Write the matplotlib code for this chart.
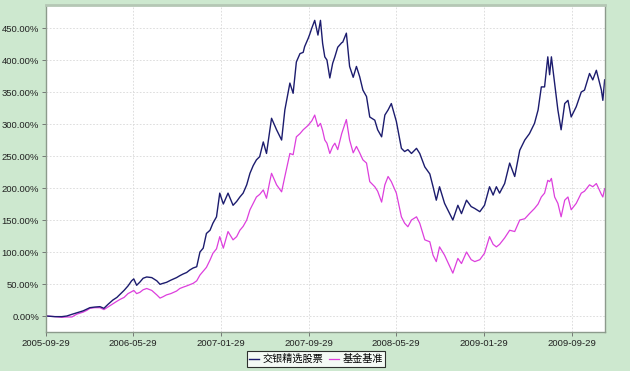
import numpy as np
import pandas as pd
import matplotlib
matplotlib.use("Agg")
import matplotlib.pyplot as plt
import matplotlib.dates as mdates
from matplotlib.ticker import FuncFormatter, MultipleLocator

dates = [
    "2005-09-29", "2005-10-24", "2005-11-12", "2005-11-26", "2005-12-10", "2005-12-24",
    "2006-01-10", "2006-01-21", "2006-01-29", "2006-02-12", "2006-02-26", "2006-03-09",
    "2006-03-20", "2006-04-03", "2006-04-14", "2006-04-23", "2006-05-04", "2006-05-15",
    "2006-05-25", "2006-05-31", "2006-06-08", "2006-06-17", "2006-06-26", "2006-07-06",
    "2006-07-20", "2006-08-03", "2006-08-12", "2006-08-20", "2006-08-30", "2006-09-11",
    "2006-09-27", "2006-10-06", "2006-10-15", "2006-10-25", "2006-11-03", "2006-11-12",
    "2006-11-22", "2006-12-01", "2006-12-10", "2006-12-19", "2006-12-29",
    "2007-01-06", "2007-01-16", "2007-01-25", "2007-02-04", "2007-02-17", "2007-03-03",
    "2007-03-13", "2007-03-22", "2007-03-31", "2007-04-10", "2007-04-19", "2007-04-28",
    "2007-05-07", "2007-05-16", "2007-05-26", "2007-06-04", "2007-06-13", "2007-06-18",
    "2007-07-02", "2007-07-16", "2007-07-25", "2007-08-08", "2007-08-17", "2007-08-26",
    "2007-09-05", "2007-09-14", "2007-09-18", "2007-09-28", "2007-10-02", "2007-10-08",
    "2007-10-16", "2007-10-25", "2007-11-01", "2007-11-07", "2007-11-13", "2007-11-19",
    "2007-11-27", "2007-12-05", "2007-12-11", "2007-12-19", "2007-12-30",
    "2008-01-02", "2008-01-12", "2008-01-21", "2008-01-31", "2008-02-09", "2008-02-18",
    "2008-02-27", "2008-03-08", "2008-03-17", "2008-03-31", "2008-04-08", "2008-04-19",
    "2008-04-28", "2008-05-07", "2008-05-16", "2008-05-30", "2008-06-13", "2008-06-22",
    "2008-07-01", "2008-07-11", "2008-07-25", "2008-08-03", "2008-08-17", "2008-08-31",
    "2008-09-09", "2008-09-18", "2008-09-27", "2008-10-11", "2008-10-25", "2008-11-03",
    "2008-11-17", "2008-11-27", "2008-12-11", "2008-12-24",
    "2009-01-03", "2009-01-17", "2009-01-30", "2009-02-13", "2009-02-23", "2009-03-04",
    "2009-03-13", "2009-03-27", "2009-04-10", "2009-04-24", "2009-05-08", "2009-05-22",
    "2009-06-04", "2009-06-18", "2009-06-28", "2009-07-07", "2009-07-16", "2009-07-25",
    "2009-07-30", "2009-08-04", "2009-08-13", "2009-08-22", "2009-08-31", "2009-09-10",
    "2009-09-19", "2009-09-28", "2009-10-12", "2009-10-26", "2009-11-04", "2009-11-18",
    "2009-11-27", "2009-12-07", "2009-12-21", "2009-12-25", "2009-12-30",
]

# 交银精选股票 cumulative return, %
fund = [
    0, -1, -1, 0, 2.6, 5,
    8, 11, 13, 14, 14.6, 12,
    18, 25, 29, 34, 40, 47,
    55, 58, 48, 53, 59, 61,
    60, 55, 49.5, 51, 52.6, 56,
    60, 63, 65.6, 68, 72, 75,
    77, 100, 106, 129, 134,
    145, 155, 192, 175, 192, 173,
    179, 186, 192, 205, 223, 235,
    244, 249, 272, 254, 290, 309,
    291, 275, 322, 364, 348, 397,
    410, 412, 421, 434, 440, 450,
    462, 439, 462, 426, 405, 400,
    372, 395, 405, 420, 427,
    428, 442, 390, 373, 390, 374,
    353, 343, 311, 306, 291, 280,
    314, 322, 332, 304, 262, 257,
    260, 254, 262, 254, 233, 222,
    202, 181, 202, 176, 160, 150,
    173, 160, 181, 171,
    168, 163, 173, 202, 189, 202,
    192, 207, 239, 218, 259, 275,
    285, 301, 322, 358, 358, 405,
    377, 405, 364, 322, 291, 332,
    337, 311, 327, 350, 353, 379,
    369, 384, 353, 337, 369,
]

# 基金基准 cumulative return, %
bench = [
    0, -1, -2, -1.5, -1.5, 3,
    6, 9, 12, 13, 13, 10,
    14, 19, 23, 26, 29, 35,
    38, 40, 35, 37, 41, 43,
    40, 33, 28, 30, 33, 35,
    39, 43, 45, 47, 49, 51,
    55, 64, 70, 76, 87.5,
    98, 105, 124, 106, 132, 119,
    124, 134, 140, 150, 166, 176,
    186, 190, 197, 184, 210, 223,
    205, 194, 218, 254, 252, 280,
    285, 291, 293, 298, 301, 305,
    314, 296, 301, 290, 275, 270,
    254, 265, 270, 260, 285,
    290, 307, 275, 255, 265, 255,
    244, 239, 210, 202, 195, 178,
    205, 218, 210, 192, 155, 145,
    139.5, 150, 155, 145, 119, 116,
    95, 85, 108, 95, 78, 67,
    90, 82, 100, 88,
    85, 88, 98, 124, 112, 108,
    112, 122, 134, 132, 150, 152,
    160, 168, 175, 186, 192, 212,
    210, 215, 186, 176, 155, 181,
    186, 166, 176, 192, 195, 205,
    202, 207, 190, 186, 199,
]

tick_dates = ["2005-09-29", "2006-05-29", "2007-01-29", "2007-09-29",
              "2008-05-29", "2009-01-29", "2009-09-29"]

x = pd.to_datetime(dates)
bg = "#cde8cf"

fig = plt.figure(figsize=(6.3, 3.71), dpi=100, facecolor=bg)
ax = fig.add_axes([46 / 630, 39 / 371, 559 / 630, 327 / 371])
ax.set_facecolor("white")

l2, = ax.plot(x, bench, color="#dd3fdd", lw=0.9, label="基金基准")
l1, = ax.plot(x, fund, color="#1c1c6e", lw=1.0, label="交银精选股票")

ax.set_xlim(pd.Timestamp("2005-09-29"), pd.Timestamp("2009-12-31"))
ax.set_ylim(-25, 486)
ax.yaxis.set_major_locator(MultipleLocator(50))
ax.yaxis.set_major_formatter(FuncFormatter(lambda v, p: f"{v:.2f}%"))
ax.set_xticks(pd.to_datetime(tick_dates))
ax.xaxis.set_major_formatter(mdates.DateFormatter("%Y-%m-%d"))

ax.grid(True, color="#d8d8d8", linestyle=(0, (2, 2)), linewidth=0.6)
for s in ax.spines.values():
    s.set_color("#8c9a8c")
    s.set_linewidth(1.0)
ax.spines["top"].set_color("#b5c7b5")
ax.spines["top"].set_linewidth(2)

ax.tick_params(axis="both", length=3, width=0.6, color="#666666",
               labelsize=6.8, labelcolor="#222222", pad=2)
for lab in ax.get_xticklabels() + ax.get_yticklabels():
    lab.set_fontfamily("Liberation Sans")

leg = fig.legend(handles=[l1, l2], loc="center", bbox_to_anchor=(316 / 630, 1 - 359 / 371),
                 ncol=2, frameon=True, fancybox=False, handlelength=1.0,
                 handletextpad=0.3, columnspacing=0.6, borderpad=0.25,
                 prop={"family": ["Noto Sans CJK SC", "DejaVu Sans"], "size": 7.3})
leg.get_frame().set_edgecolor("black")
leg.get_frame().set_linewidth(0.8)

fig.savefig("out.png", dpi=100, facecolor=bg)
